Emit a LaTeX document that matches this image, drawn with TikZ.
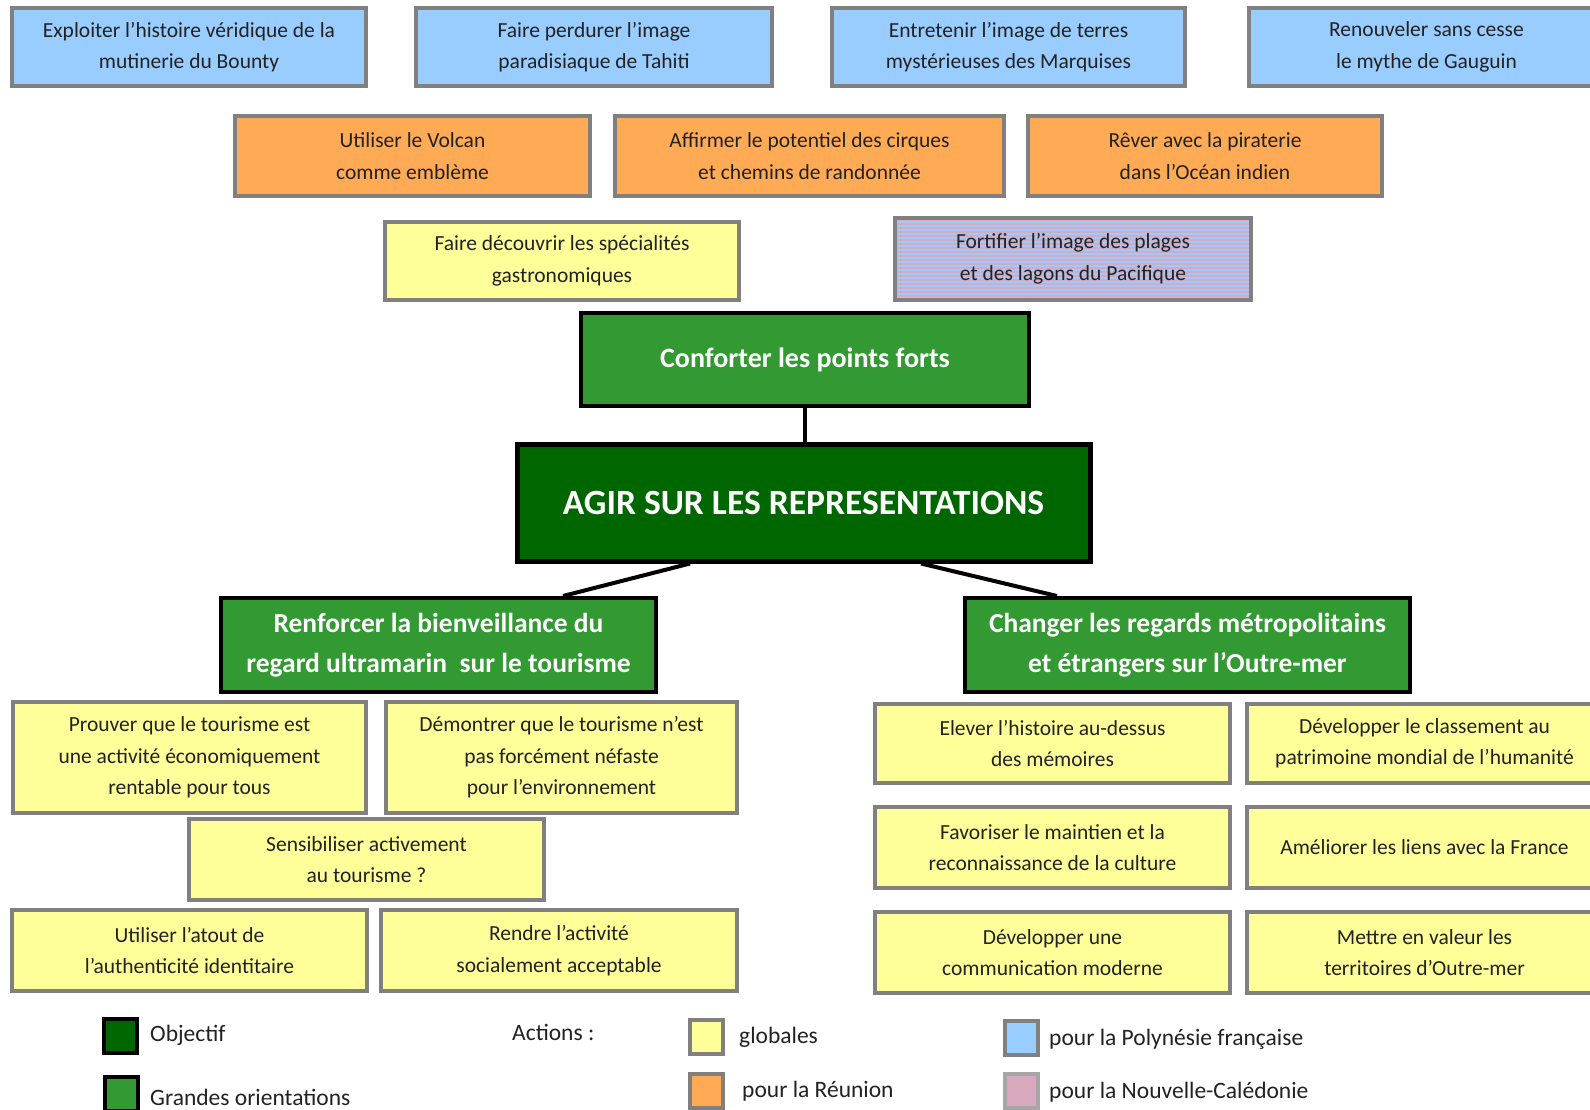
\documentclass[tikz,border=0pt]{standalone}
\usepackage{fontspec}
\setmainfont{Carlito}
\definecolor{cblue}{HTML}{99CCFF}
\definecolor{corange}{HTML}{FFAA55}
\definecolor{cyellow}{HTML}{FFFF99}
\definecolor{cgreen}{HTML}{339933}
\definecolor{cdark}{HTML}{006600}
\definecolor{cpink}{HTML}{D8A8BE}
\definecolor{cborder}{HTML}{808080}
\definecolor{ctext}{HTML}{222222}
\begin{document}
\begin{tikzpicture}[x=1pt,y=-1pt,
  act/.style={draw=cborder, line width=4pt, inner sep=0pt, align=center, text=ctext,
    font=\fontsize{21.5}{31.5}\selectfont, minimum width=355pt, minimum height=80pt},
  blueb/.style={act, fill=cblue, minimum height=78pt},
  orangeb/.style={act, fill=corange},
  yellowb/.style={act, fill=cyellow},
  orient/.style={draw=black, line width=4pt, fill=cgreen, inner sep=0pt, align=center, text=white,
    font=\bfseries\fontsize{27.5}{40.5}\selectfont, minimum height=94pt},
  link/.style={draw=black, line width=4pt},
  legsq/.style={line width=4pt, minimum width=33pt, minimum height=34pt, inner sep=0pt},
  legtxt/.style={anchor=west, inner sep=0pt, text=ctext, font=\fontsize{23.5}{26}\selectfont}
]
\useasboundingbox (0,0) rectangle (1590,1109);
\clip (0,0) rectangle (1590,1109);
\fill[white] (0,0) rectangle (1590,1109);

% row 1 (Polynesie)
\node[blueb, minimum width=354pt] (b1) at (189,47) {Exploiter l’histoire véridique de la\\mutinerie du Bounty};
\node[blueb, minimum width=356pt] (b2) at (594,47) {Faire perdurer l’image\\paradisiaque de Tahiti};
\node[blueb, minimum width=353pt] (b3) at (1008.5,47) {Entretenir l’image de terres\\mystérieuses des Marquises};
\node[blueb] (b4) at (1426.5,47) {Renouveler sans cesse\\le mythe de Gauguin};

% row 2 (Reunion)
\node[orangeb] (o1) at (412.5,156) {Utiliser le Volcan\\comme emblème};
\node[orangeb, minimum width=389pt] (o2) at (809.5,156) {Affirmer le potentiel des cirques\\et chemins de randonnée};
\node[orangeb, minimum width=354pt] (o3) at (1205,156) {Rêver avec la piraterie\\dans l’Océan indien};

% row 3
\node[yellowb, minimum width=354pt, minimum height=78pt] (g1) at (562,261) {Faire découvrir les spécialités\\gastronomiques};
\fill[cblue] (895,218) rectangle (1251,300);
\begin{scope}
\clip (895,218) rectangle (1251,300);
\foreach \k in {0,...,21} {
  \fill[cpink] (895,{219+4*\k}) rectangle (1251,{221+4*\k});
}
\end{scope}
\node[act, minimum width=356pt, minimum height=82pt] (nc) at (1073,259) {Fortifier l’image des plages\\et des lagons du Pacifique};

% objective
\node[draw=black, line width=4pt, fill=cgreen, minimum width=448pt, minimum height=93pt, inner sep=0pt,
  text=white, font=\bfseries\fontsize{28}{32}\selectfont] (conf) at (805,359.5) {Conforter les points forts};
\node[draw=black, line width=5pt, fill=cdark, minimum width=573pt, minimum height=117pt, inner sep=0pt,
  text=white, font=\bfseries\fontsize{35.5}{40}\selectfont] (agir) at (803.5,502.5) {AGIR SUR LES REPRESENTATIONS};
\node[orient, minimum width=435pt] (renf) at (438.5,645) {Renforcer la bienveillance du\\regard ultramarin\ \ sur le tourisme};
\node[orient, minimum width=445pt] (chg) at (1187.5,645) {Changer les regards métropolitains\\et étrangers sur l’Outre-mer};

\draw[link] (conf.south) -- (conf.south |- agir.north);
\draw[link] ([xshift=-113.5pt]agir.south) -- ([xshift=124.5pt]renf.north);
\draw[link] ([xshift=117.5pt]agir.south) -- ([xshift=-130.5pt]chg.north);

% left actions
\node[yellowb, minimum width=353pt, minimum height=111pt] (p1) at (189.5,757.5) {Prouver que le tourisme est\\une activité économiquement\\rentable pour tous};
\node[yellowb, minimum width=351pt, minimum height=111pt] (p2) at (561.5,757.5) {Démontrer que le tourisme n’est\\pas forcément néfaste\\pour l’environnement};
\node[yellowb, minimum height=81pt] (s) at (366.5,859.5) {Sensibiliser activement\\au tourisme ?};
\node[yellowb, minimum height=81pt] (u) at (189.5,950.5) {Utiliser l’atout de\\l’authenticité identitaire};
\node[yellowb, minimum width=356pt, minimum height=81pt] (r) at (559,950.5) {Rendre l’activité\\socialement acceptable};

% right actions
\node[yellowb, minimum height=79pt] (e) at (1052.5,743.5) {Elever l’histoire au-dessus\\des mémoires};
\node[yellowb, minimum height=79pt] (d) at (1424.5,743.5) {Développer le classement au\\patrimoine mondial de l’humanité};
\node[yellowb, minimum height=81pt] (f) at (1052.5,847.5) {Favoriser le maintien et la\\reconnaissance de la culture};
\node[yellowb, minimum height=81pt] (a) at (1424.5,847.5) {Améliorer les liens avec la France};
\node[yellowb, minimum height=81pt] (dv) at (1052.5,952.5) {Développer une\\communication moderne};
\node[yellowb, minimum height=81pt] (m) at (1424.5,952.5) {Mettre en valeur les\\territoires d’Outre-mer};

% legend
\node[legsq, draw=black, fill=cdark] (lobj) at (120.5,1036) {};
\node[legtxt] (tobj) at (150,1035) {Objectif};
\node[legsq, draw=black, fill=cgreen] (lgo) at (121,1094) {};
\node[legtxt] (tgo) at (150,1097) {Grandes orientations};
\node[legtxt] (tact) at (512,1032) {Actions :};
\node[legsq, draw=cborder, fill=cyellow] (lgl) at (706,1036.5) {};
\node[legtxt] (tgl) at (739,1037) {globales};
\node[legsq, draw=cborder, fill=corange] (lre) at (706,1091) {};
\node[legtxt] (tre) at (742,1091) {pour la Réunion};
\node[legsq, draw=cborder, fill=cblue] (lpf) at (1021,1037.5) {};
\node[legtxt] (tpf) at (1049,1039) {pour la Polynésie française};
\node[legsq, draw=cborder!70, fill=cpink] (lnc) at (1021,1091) {};
\node[legtxt] (tnc) at (1049,1092) {pour la Nouvelle-Calédonie};
\end{tikzpicture}
\end{document}
